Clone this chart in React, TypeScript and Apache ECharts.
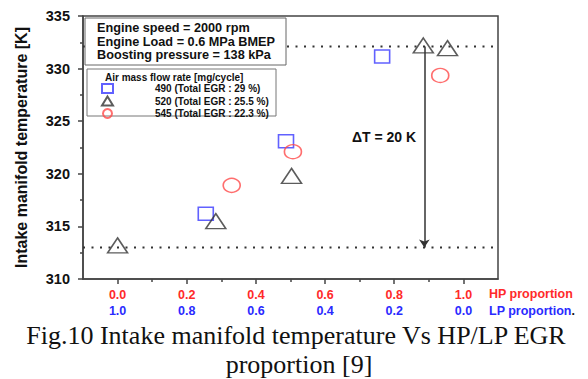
import React, { useEffect, useRef } from 'react';
import * as echarts from 'echarts';

const hpLabels = ['0.0', '0.2', '0.4', '0.6', '0.8', '1.0'];
const lpLabels = ['1.0', '0.8', '0.6', '0.4', '0.2', '0.0'];
const xMajorTicks = [0, 0.2, 0.4, 0.6, 0.8, 1.0];
const xMinorTicks = [0.1, 0.3, 0.5, 0.7, 0.9];

const air490: number[][] = [[0.255, 316.2], [0.487, 323.1], [0.765, 331.15]];
const air520: number[][] = [[0.0, 313.2], [0.284, 315.5], [0.503, 319.8], [0.884, 332.2], [0.954, 331.95]];
const air545: number[][] = [[0.33, 318.9], [0.507, 322.1], [0.933, 329.35]];

const refHigh = 332.1;
const refLow = 313.0;
const deltaX = 0.887;

const seriesNames = ['490 (Total EGR : 29 %)', '520 (Total EGR : 25.5 %)', '545 (Total EGR : 22.3 %)'];
const infoLines = ['Engine speed = 2000 rpm', 'Engine Load = 0.6 MPa BMEP', 'Boosting pressure = 138 kPa'];
const legendTitle = 'Air mass flow rate [mg/cycle]';
const deltaLabel = '\u0394T = 20 K';
const yName = 'Intake manifold temperature [K]';
const captionLines = ['Fig.10 Intake manifold temperature Vs HP/LP EGR', 'proportion [9]'];

const SANS = 'Arial, "Liberation Sans", sans-serif';
const SERIF = '"Times New Roman", "Liberation Serif", serif';
const AXIS = '#444';

export default function App() {
  const ref = useRef<HTMLDivElement>(null);
  useEffect(() => {
    document.body.style.margin = '0';
    const chart = echarts.init(ref.current!, null, { renderer: 'svg' });
    const hollow = (c: string) => ({ color: 'rgba(0,0,0,0)', borderColor: c, borderWidth: 1.5 });
    const option: any = {
      animation: false,
      textStyle: { fontFamily: SANS },
      grid: { left: 83, top: 16, width: 415, height: 263, show: true, borderColor: AXIS, borderWidth: 1.5, backgroundColor: 'transparent' },
      xAxis: [
        {
          type: 'value', min: -0.1, max: 1.1, position: 'bottom',
          axisLine: { onZero: false, lineStyle: { color: AXIS, width: 1.5 } },
          axisTick: { customValues: xMajorTicks, length: 5, lineStyle: { color: AXIS, width: 1.5 } },
          splitLine: { show: false },
          axisLabel: {
            customValues: xMajorTicks,
            margin: 8,
            formatter: (v: number) => {
              const i = Math.round(v / 0.2);
              return `{hp|${hpLabels[i]}}\n{lp|${lpLabels[i]}}`;
            },
            rich: {
              hp: { color: '#ff2a2a', fontWeight: 'bold', fontSize: 12.5, lineHeight: 16, fontFamily: SANS },
              lp: { color: '#2a2aff', fontWeight: 'bold', fontSize: 12.5, lineHeight: 16, fontFamily: SANS },
            },
          },
        },
        {
          type: 'value', min: -0.1, max: 1.1, position: 'bottom',
          axisLine: { show: false, onZero: false },
          axisTick: { customValues: xMinorTicks, length: 3, lineStyle: { color: AXIS, width: 1.5 } },
          axisLabel: { show: false },
          splitLine: { show: false },
        },
      ],
      yAxis: {
        type: 'value', min: 310, max: 335, interval: 5,
        name: yName, nameLocation: 'middle', nameGap: 54,
        nameTextStyle: { fontSize: 16, fontWeight: 'bold', color: '#111', fontFamily: SANS },
        axisLine: { show: true, onZero: false, lineStyle: { color: AXIS, width: 1.5 } },
        axisTick: { show: true, length: 5, lineStyle: { color: AXIS, width: 1.5 } },
        minorTick: { show: true, splitNumber: 2, length: 3, lineStyle: { color: AXIS, width: 1.5 } },
        splitLine: { show: false },
        axisLabel: { margin: 13, fontSize: 14.5, fontWeight: 'bold', color: '#111', fontFamily: SANS },
      },
      legend: {
        data: seriesNames, orient: 'vertical', left: 101, top: 83, padding: 0,
        itemWidth: 11, itemHeight: 9, itemGap: 1.5, z: 10,
        textStyle: { fontSize: 10, lineHeight: 9, fontWeight: 'bold', color: '#111', padding: [0, 0, 0, 37], fontFamily: SANS },
      },
      series: [
        {
          type: 'line', name: 'refHigh', data: [[-0.1, refHigh], [1.1, refHigh]], symbol: 'none', silent: true, z: 1,
          lineStyle: { color: '#333', width: 2, type: [2, 6.5] },
        },
        {
          type: 'line', name: 'refLow', data: [[-0.1, refLow], [1.1, refLow]], symbol: 'none', silent: true, z: 1,
          lineStyle: { color: '#333', width: 2, type: [2, 6.5] },
          markLine: {
            silent: true, symbol: ['none', 'arrow'], symbolSize: 8,
            lineStyle: { color: '#333', width: 1.5, type: 'solid' },
            label: { show: false },
            data: [[{ coord: [deltaX, refHigh] }, { coord: [deltaX, refLow] }]],
          },
        },
        { type: 'scatter', name: seriesNames[0], data: air490, symbol: 'rect', symbolSize: [15, 13], itemStyle: hollow('#3a3aff'), z: 3 },
        { type: 'scatter', name: seriesNames[1], data: air520, symbol: 'triangle', symbolSize: [20, 15], itemStyle: hollow('#333'), z: 3 },
        { type: 'scatter', name: seriesNames[2], data: air545, symbol: 'circle', symbolSize: [17, 14], itemStyle: hollow('#ff4a4a'), z: 3 },
      ],
      graphic: [
        { type: 'rect', z: 5, shape: { x: 85, y: 18, width: 201, height: 47 }, style: { fill: '#fff', stroke: '#666', lineWidth: 1 } },
        ...infoLines.map((t, i) => ({
          type: 'text', z: 6, x: 97, y: 28 + i * 13.5,
          style: { text: t, fill: '#111', font: `bold 12.7px ${SANS}`, verticalAlign: 'middle' },
        })),
        { type: 'rect', z: 5, shape: { x: 87, y: 69, width: 189, height: 47 }, style: { fill: '#fff', stroke: '#777', lineWidth: 1 } },
        { type: 'text', z: 6, x: 105, y: 77, style: { text: legendTitle, fill: '#111', font: `bold 10px ${SANS}`, verticalAlign: 'middle' } },
        { type: 'text', z: 6, x: 352, y: 137, style: { text: deltaLabel, fill: '#111', font: `bold 14px ${SANS}`, verticalAlign: 'middle' } },
        { type: 'text', z: 6, x: 489, y: 294, style: { text: 'HP proportion', fill: '#ff2a2a', font: `bold 12.5px ${SANS}`, verticalAlign: 'middle' } },
        {
          type: 'text', z: 6, x: 489, y: 311,
          style: {
            text: '{lp|LP proportion}{d|.}', verticalAlign: 'middle',
            rich: {
              lp: { fill: '#2a2aff', font: `bold 12.5px ${SANS}` },
              d: { fill: '#111', font: `bold 12.5px ${SANS}` },
            },
          },
        },
        { type: 'text', z: 6, x: 296, y: 335.7, style: { text: captionLines[0], fill: '#111', font: `26px ${SERIF}`, align: 'center', verticalAlign: 'middle' } },
        { type: 'text', z: 6, x: 299, y: 364.5, style: { text: captionLines[1], fill: '#111', font: `26px ${SERIF}`, align: 'center', verticalAlign: 'middle' } },
      ],
    };
    chart.setOption(option);
    return () => chart.dispose();
  }, []);
  return <div ref={ref} style={{ width: 588, height: 379 }} />;
}
